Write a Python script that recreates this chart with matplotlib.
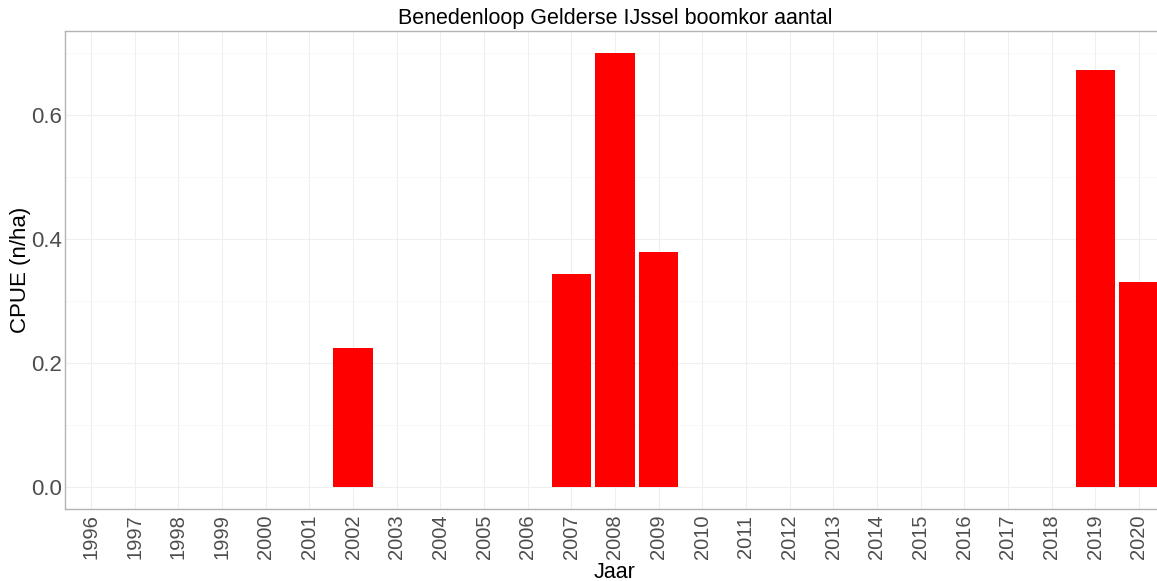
import numpy as np
import matplotlib
matplotlib.use("Agg")
import matplotlib.pyplot as plt
from matplotlib.ticker import MultipleLocator

years = list(range(1996, 2021))
bar_years = [2002, 2007, 2008, 2009, 2019, 2020]
cpue = [0.225, 0.343, 0.700, 0.379, 0.672, 0.330]

plt.rcParams['font.family'] = ['Liberation Sans', 'DejaVu Sans']

fig = plt.figure(figsize=(11.57, 5.81), dpi=100)
# panel runs past the right edge, like the cropped original
ax = fig.add_axes([65 / 1157, 1 - 509 / 581, 1100 / 1157, 478 / 581])

ax.bar(bar_years, cpue, width=0.9, color='#ff0000', zorder=2)

ax.set_xlim(1995.4, 2020.6)
ax.set_ylim(-0.035, 0.735)
ax.set_xticks(years)
ax.set_xticklabels([str(y) for y in years], rotation=90)
ax.yaxis.set_major_locator(MultipleLocator(0.2))
ax.yaxis.set_minor_locator(MultipleLocator(0.1))
ax.yaxis.set_major_formatter(matplotlib.ticker.FormatStrFormatter('%.1f'))

ax.grid(which='major', color='#efefef', linewidth=0.8, zorder=0)
ax.grid(which='minor', axis='y', color='#f6f6f6', linewidth=0.5, zorder=0)
ax.set_axisbelow(True)
for s in ax.spines.values():
    s.set_color('#b3b3b3')
    s.set_linewidth(1.0)
ax.tick_params(which='both', length=0, labelcolor='#4d4d4d')
ax.tick_params(axis='y', labelsize=16, pad=2)
ax.tick_params(axis='x', labelsize=14.5, pad=4)

ax.set_xlabel('Jaar', fontsize=15.5)
ax.xaxis.set_label_coords(0.5, (509 - 572) / 478)
ax.xaxis.label.set_va('center')
ax.set_ylabel('CPUE (n/ha)', fontsize=16)
ax.yaxis.set_label_coords((20 - 65) / 1100, 0.5)
ax.yaxis.label.set_va('center')
ax.set_title('Benedenloop Gelderse IJssel boomkor aantal', fontsize=15.5, pad=5)

fig.savefig('out.png', dpi=100)
